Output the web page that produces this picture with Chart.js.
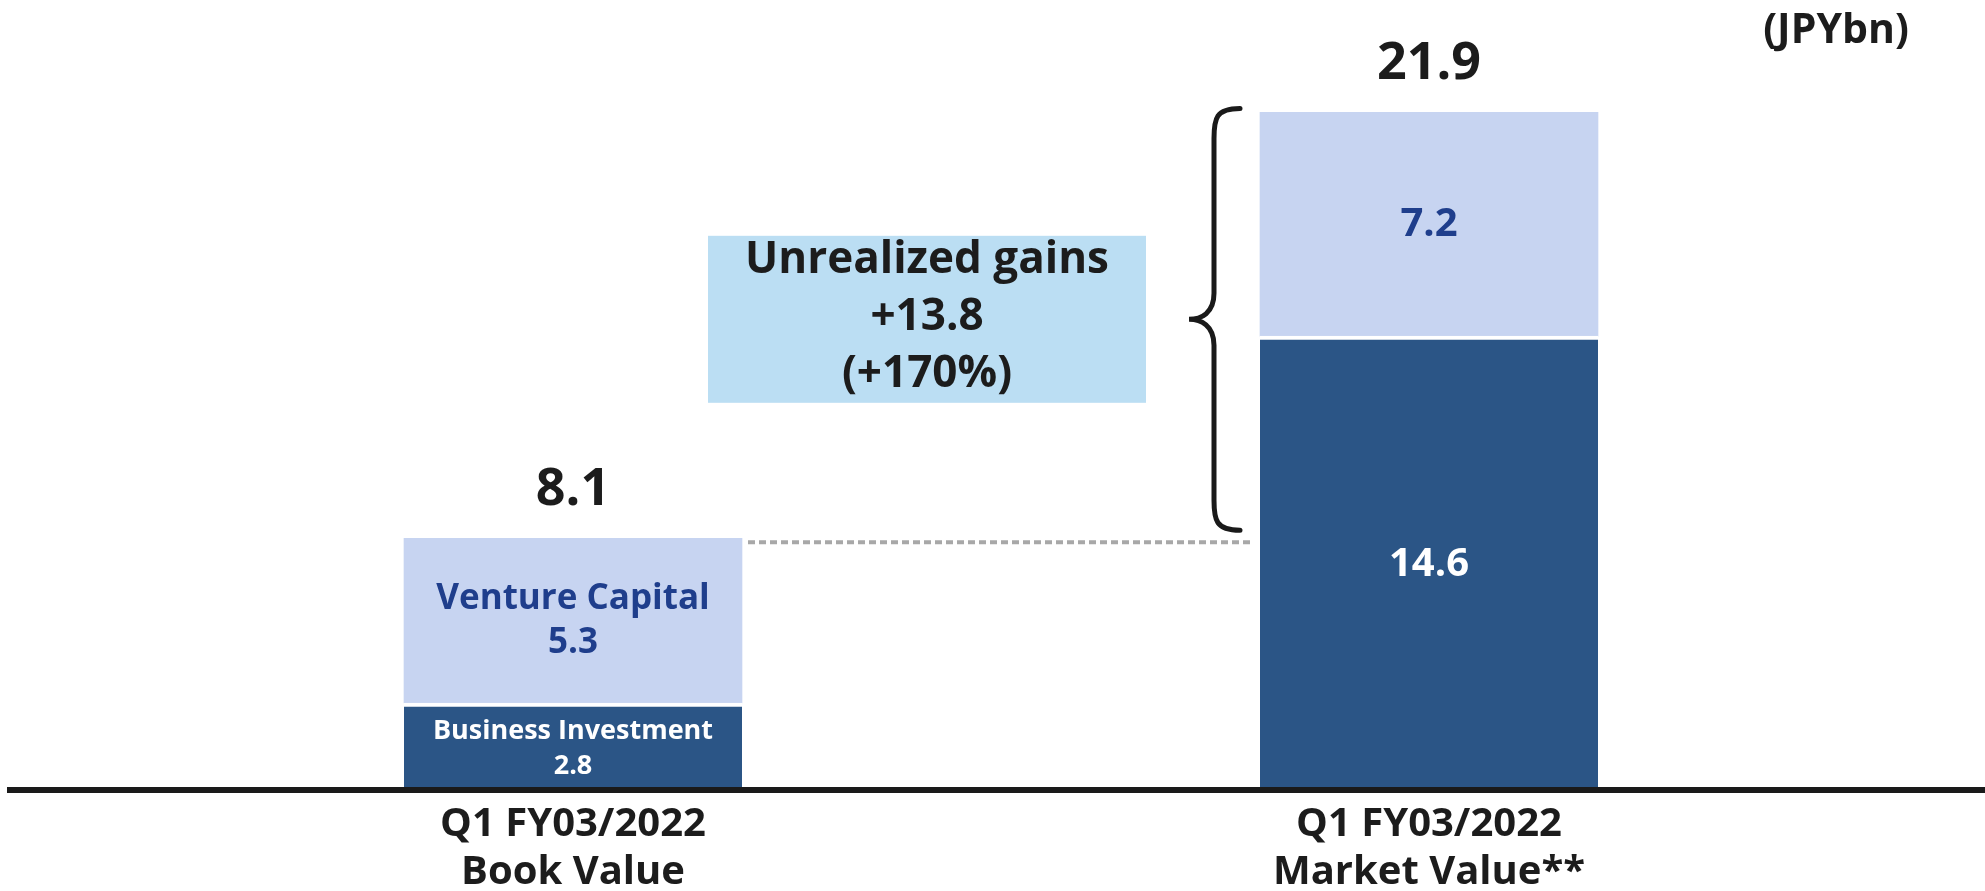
<!DOCTYPE html>
<html>
<head>
<meta charset="utf-8">
<script src="https://cdn.jsdelivr.net/npm/chart.js@4.4.0/dist/chart.umd.min.js"></script>
<style>
  html, body { margin: 0; padding: 0; background: #fff; }
  #wrap { width: 1985px; height: 891px; position: relative; }
</style>
</head>
<body>
<div id="wrap"><canvas id="stackChart"></canvas></div>
<script>
const categories = [["Q1 FY03/2022", "Book Value"], ["Q1 FY03/2022", "Market Value**"]];
const businessInvestment = [2.8, 14.6];
const ventureCapital = [5.3, 7.2];
const totals = [8.1, 21.9];
const segmentNames = ["Business Investment", "Venture Capital"];
const unitLabel = "(JPYbn)";

const DARK = "#2b5586";
const LIGHT = "#c7d4f1";
const NAVY = "#1f3e8c";
const INK = "#1c1c1c";
const FONT = "'Open Sans', 'Noto Sans', sans-serif";

// unrealized gain = market total - book total
const gain = totals[1] - totals[0];
const gainPct = Math.round(gain / totals[0] * 100);

function textLines(ctx, lines, x, y, size, gap, color) {
  ctx.font = `bold ${size}px ${FONT}`;
  ctx.fillStyle = color;
  ctx.textAlign = "center";
  ctx.textBaseline = "middle";
  const start = y - (lines.length - 1) * gap / 2;
  lines.forEach((t, i) => ctx.fillText(t, x, start + i * gap));
}

const annotations = {
  id: "annotations",
  afterDatasetsDraw(chart) {
    const ctx = chart.ctx;
    const y = chart.scales.y;
    const dark = chart.getDatasetMeta(0).data;
    const light = chart.getDatasetMeta(1).data;

    // segment labels
    const segSize = [[27, 35], [40, 40]];
    const segGap = [[35, 44], [48, 48]];
    dark.forEach((bar, i) => {
      const v = businessInvestment[i].toFixed(1);
      const lines = i === 0 ? [segmentNames[0], v] : [v];
      textLines(ctx, lines, bar.x, (bar.y + 4 + bar.base) / 2, segSize[i][0], segGap[i][0], "#ffffff");
    });
    light.forEach((bar, i) => {
      const v = ventureCapital[i].toFixed(1);
      const lines = i === 0 ? [segmentNames[1], v] : [v];
      textLines(ctx, lines, bar.x, (bar.y + bar.base) / 2, segSize[i][1], segGap[i][1], NAVY);
    });

    // totals above bars
    light.forEach((bar, i) => {
      textLines(ctx, [totals[i].toFixed(1)], bar.x, bar.y - 48, 52, 0, INK);
    });

    // baseline across full width
    const y0 = y.getPixelForValue(0);
    ctx.save();
    ctx.strokeStyle = "#1a1a1a";
    ctx.lineWidth = 6;
    ctx.beginPath();
    ctx.moveTo(7, y0);
    ctx.lineTo(chart.width, y0);
    ctx.stroke();

    // dotted connector from book value top
    const b1Right = light[0].x + light[0].width / 2;
    const b2Left = light[1].x - light[1].width / 2;
    const yBook = light[0].y;
    ctx.strokeStyle = "#a8a8a8";
    ctx.lineWidth = 4;
    ctx.setLineDash([7, 4]);
    ctx.beginPath();
    ctx.moveTo(b1Right + 6, yBook + 4);
    ctx.lineTo(b2Left - 6, yBook + 4);
    ctx.stroke();
    ctx.setLineDash([]);

    // curly brace
    const yt = light[1].y - 4;
    const yb = yBook - 8;
    const ym = (yt + yb) / 2;
    const s = b2Left - 46, e = b2Left - 20, t = b2Left - 71;
    ctx.strokeStyle = "#1a1a1a";
    ctx.lineWidth = 5;
    ctx.lineCap = "round";
    ctx.beginPath();
    ctx.moveTo(e, yt);
    ctx.bezierCurveTo(s + 2, yt, s, yt + 10, s, yt + 30);
    ctx.lineTo(s, ym - 26);
    ctx.bezierCurveTo(s, ym - 6, t + 12, ym, t, ym);
    ctx.bezierCurveTo(t + 12, ym, s, ym + 6, s, ym + 26);
    ctx.lineTo(s, yb - 30);
    ctx.bezierCurveTo(s, yb - 10, s + 2, yb, e, yb);
    ctx.stroke();

    // gains box
    const bx = b2Left - 552, bw = 438, bh = 167;
    ctx.fillStyle = "#bbdef3";
    ctx.fillRect(bx, ym - bh / 2, bw, bh);
    textLines(ctx, ["Unrealized gains", "+" + gain.toFixed(1), "(+" + gainPct + "%)"],
      bx + bw / 2, ym - 2, 44, 57, INK);

    // unit
    textLines(ctx, [unitLabel], 1836, 31, 41, 0, INK);
    ctx.restore();
  }
};

new Chart(document.getElementById("stackChart"), {
  type: "bar",
  data: {
    labels: categories,
    datasets: [
      {
        label: segmentNames[0],
        data: businessInvestment,
        backgroundColor: DARK,
        borderColor: "#ffffff",
        borderWidth: { top: 4, left: 0, right: 0, bottom: 0 },
        borderSkipped: false,
        barThickness: 338
      },
      {
        label: segmentNames[1],
        data: ventureCapital,
        backgroundColor: LIGHT,
        borderWidth: 0,
        barThickness: 338
      }
    ]
  },
  options: {
    responsive: true,
    maintainAspectRatio: false,
    animation: false,
    layout: { padding: { top: 44, left: 145, right: 128, bottom: 0 } },
    plugins: { legend: { display: false }, tooltip: { enabled: false } },
    scales: {
      x: {
        stacked: true,
        grid: { display: false, drawTicks: false },
        border: { display: false },
        ticks: {
          padding: 11,
          color: INK,
          font: { family: FONT, size: 40, weight: "bold", lineHeight: 1.2 }
        },
        afterFit: (scale) => { scale.height = 101; }
      },
      y: {
        stacked: true,
        display: false,
        min: 0,
        max: 24
      }
    }
  },
  plugins: [annotations]
});
</script>
</body>
</html>
